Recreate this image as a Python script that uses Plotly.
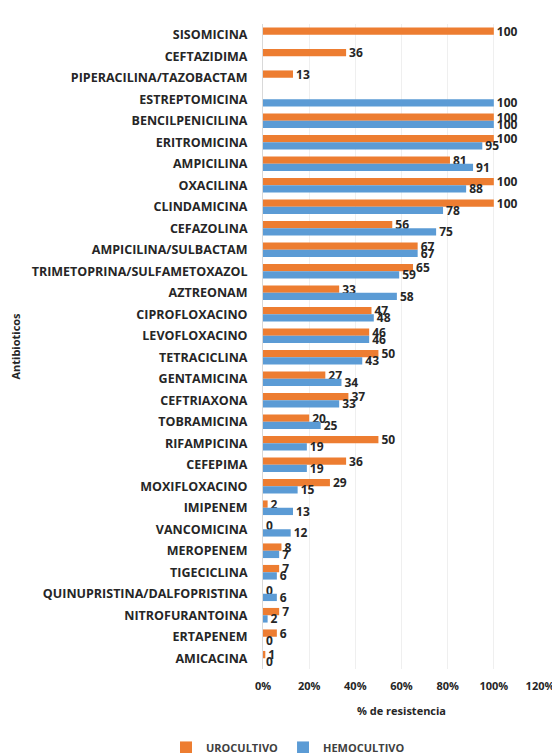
import plotly.graph_objects as go

categories = [
    "SISOMICINA", "CEFTAZIDIMA", "PIPERACILINA/TAZOBACTAM", "ESTREPTOMICINA",
    "BENCILPENICILINA", "ERITROMICINA", "AMPICILINA", "OXACILINA", "CLINDAMICINA",
    "CEFAZOLINA", "AMPICILINA/SULBACTAM", "TRIMETOPRINA/SULFAMETOXAZOL", "AZTREONAM",
    "CIPROFLOXACINO", "LEVOFLOXACINO", "TETRACICLINA", "GENTAMICINA", "CEFTRIAXONA",
    "TOBRAMICINA", "RIFAMPICINA", "CEFEPIMA", "MOXIFLOXACINO", "IMIPENEM",
    "VANCOMICINA", "MEROPENEM", "TIGECICLINA", "QUINUPRISTINA/DALFOPRISTINA",
    "NITROFURANTOINA", "ERTAPENEM", "AMICACINA",
]
urocultivo = [100, 36, 13, None, 100, 100, 81, 100, 100, 56, 67, 65, 33, 47, 46, 50,
              27, 37, 20, 50, 36, 29, 2, 0, 8, 7, 0, 7, 6, 1]
hemocultivo = [None, None, None, 100, 100, 95, 91, 88, 78, 75, 67, 59, 58, 48, 46, 43,
               34, 33, 25, 19, 19, 15, 13, 12, 7, 6, 6, 2, 0, 0]
x_ticks = [0, 20, 40, 60, 80, 100, 120]
x_tick_labels = ["0%", "20%", "40%", "60%", "80%", "100%", "120%"]

ORANGE = "#ED7D31"
BLUE = "#5B9BD5"
FONT = "Open Sans"
TXT = "#262626"

def labels(vals):
    return ["" if v is None else str(v) for v in vals]

fig = go.Figure()
for name, vals, col in [("UROCULTIVO", urocultivo, ORANGE), ("HEMOCULTIVO", hemocultivo, BLUE)]:
    fig.add_trace(go.Bar(
        y=categories, x=vals, name=name, orientation="h",
        marker=dict(color=col, line=dict(width=0)),
        text=labels(vals), textposition="outside", cliponaxis=False,
        constraintext="none",
        textfont=dict(family=FONT, size=12, color=TXT, weight="bold"),
    ))

fig.update_layout(
    width=560, height=753,
    margin=dict(l=255, r=28, t=16, b=92),
    paper_bgcolor="white", plot_bgcolor="white",
    barmode="group", bargap=0.32, bargroupgap=0,
    showlegend=True,
    legend=dict(orientation="h", xref="container", yref="container",
                x=0.5, xanchor="center", y=0.018, yanchor="middle",
                font=dict(family=FONT, size=11, color="#404040", weight="bold"),
                itemwidth=30, traceorder="normal"),
    xaxis=dict(range=[0, 120], tickvals=x_ticks, ticktext=x_tick_labels,
               automargin=False,
               showgrid=True, gridcolor="#EFEFEF", gridwidth=1,
               zeroline=False, showline=False, ticks="", ticklabelstandoff=9,
               tickfont=dict(family=FONT, size=11, color=TXT, weight="bold"),
               title=dict(text="% de resistencia",
                          font=dict(family=FONT, size=11, color=TXT, weight="bold"))),
    yaxis=dict(autorange="reversed", type="category", automargin=False,
               showline=True, linecolor="#D9D9D9", linewidth=1,
               ticks="", ticklabelstandoff=12,
               tickfont=dict(family=FONT, size=12.5, color=TXT, weight="bold"),
               title=dict(text="Antibioticos",
                          font=dict(family=FONT, size=11, color=TXT, weight="bold"))),
)

fig.write_html("out.html")
